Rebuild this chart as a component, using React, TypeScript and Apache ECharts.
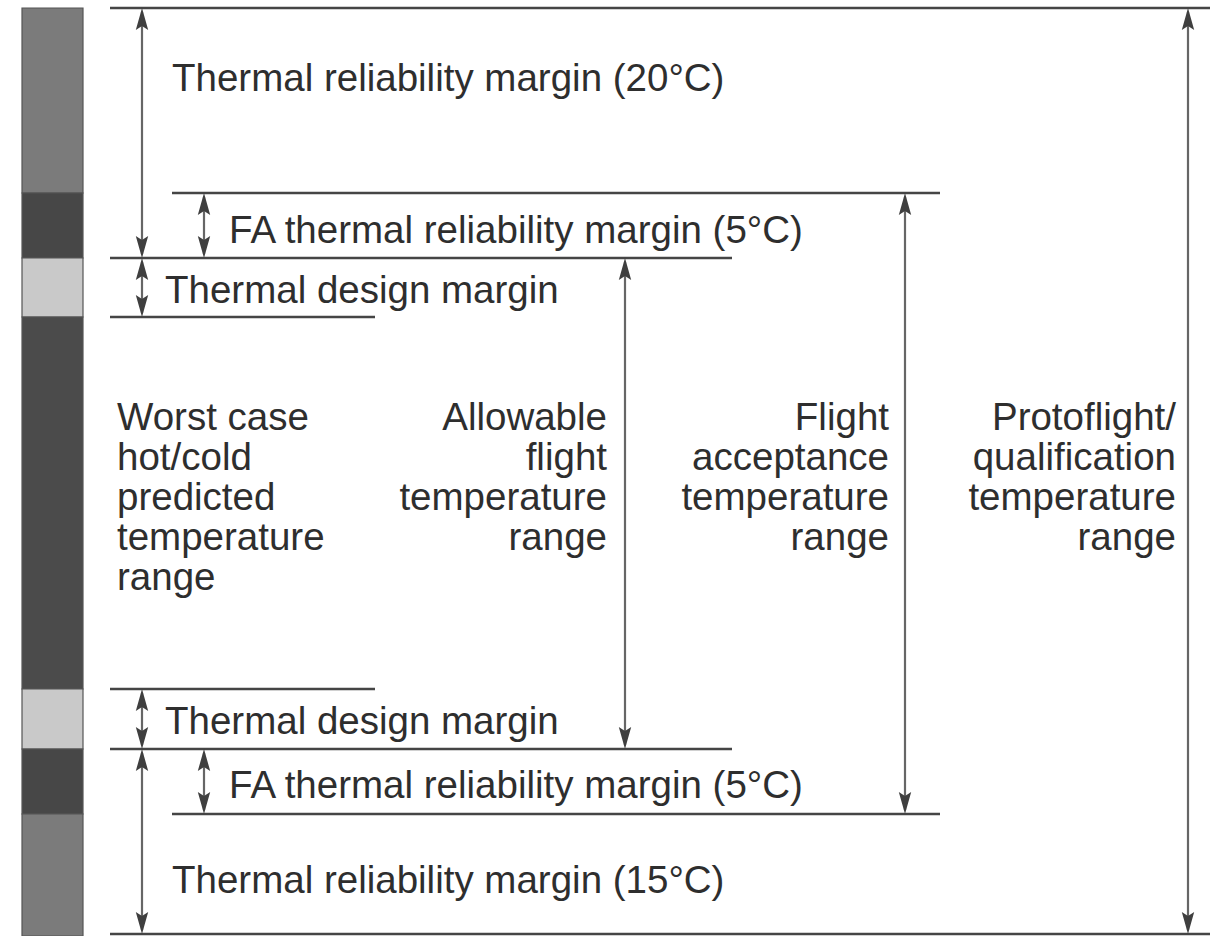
import React, { useEffect, useRef } from "react";
import * as echarts from "echarts";

// Left bar bands (vertical extent in diagram units, top->bottom)
const bandStart = [8, 193, 258, 317, 689, 749, 814];
const bandEnd = [193, 258, 317, 689, 749, 814, 936];
const bandKind = ["reliability", "fa", "design", "predicted", "design", "fa", "reliability"];

// Horizontal level lines
const levelY = [8, 193, 258, 317, 689, 749, 814, 934];
const levelStartX = [110, 172, 110, 110, 110, 110, 172, 110];
const levelEndX = [1210, 940, 732, 375, 375, 732, 940, 1210];

// Double-headed vertical arrows
const arrowX = [142, 142, 204, 625, 905, 1188, 142, 204, 142];
const arrowFrom = [8, 258, 193, 258, 193, 8, 689, 749, 749];
const arrowTo = [258, 317, 258, 749, 814, 934, 749, 814, 934];

// Labels
const labelText = [
  "Thermal reliability margin (20°C)",
  "FA thermal reliability margin (5°C)",
  "Thermal design margin",
  "Worst case\nhot/cold\npredicted\ntemperature\nrange",
  "Allowable\nflight\ntemperature\nrange",
  "Flight\nacceptance\ntemperature\nrange",
  "Protoflight/\nqualification\ntemperature\nrange",
  "Thermal design margin",
  "FA thermal reliability margin (5°C)",
  "Thermal reliability margin (15°C)",
];
const labelX = [172, 229, 165, 117, 607, 889, 1176, 165, 229, 172];
const labelY = [77, 229, 289, 496.5, 476.5, 476.5, 476.5, 720, 784, 879];
const labelAlign = ["left", "left", "left", "left", "right", "right", "right", "left", "left", "left"];

const bandColor: Record<string, string> = {
  reliability: "#7b7b7b",
  fa: "#474747",
  design: "#c9c9c9",
  predicted: "#4b4b4b",
};

const FONT = "'Liberation Sans', Arial, Helvetica, sans-serif";

export default function App() {
  const ref = useRef<HTMLDivElement>(null);
  useEffect(() => {
    if (!ref.current) return;
    const chart = echarts.init(ref.current, undefined, { renderer: "svg" });
    chart.setOption({
      animation: false,
      backgroundColor: "#ffffff",
      grid: { left: 0, right: 0, top: 0, bottom: 0 },
      xAxis: { type: "value", min: 0, max: 1217, show: false },
      yAxis: { type: "value", min: 0, max: 936, inverse: true, show: false },
      series: [
        {
          type: "custom",
          clip: false,
          silent: true,
          data: bandStart.map((s, i) => [s, bandEnd[i]]),
          renderItem: (params: any, api: any) => {
            const i = params.dataIndex;
            const p0 = api.coord([22, bandStart[i]]);
            const p1 = api.coord([83, bandEnd[i]]);
            return {
              type: "rect",
              shape: { x: p0[0], y: p0[1], width: p1[0] - p0[0], height: p1[1] - p0[1] },
              style: { fill: bandColor[bandKind[i]], stroke: "#555555", lineWidth: 1.2 },
            };
          },
        },
        {
          type: "custom",
          clip: false,
          silent: true,
          data: levelY.map((y, i) => [levelStartX[i], y, levelEndX[i]]),
          renderItem: (params: any, api: any) => {
            const i = params.dataIndex;
            const p0 = api.coord([levelStartX[i], levelY[i]]);
            const p1 = api.coord([levelEndX[i], levelY[i]]);
            return {
              type: "line",
              shape: { x1: p0[0], y1: p0[1], x2: p1[0], y2: p1[1] },
              style: { stroke: "#454545", lineWidth: 2.6 },
            };
          },
        },
        {
          type: "custom",
          clip: false,
          silent: true,
          data: arrowX.map((x, i) => [x, arrowFrom[i], arrowTo[i]]),
          renderItem: (params: any, api: any) => {
            const i = params.dataIndex;
            const a = api.coord([arrowX[i], arrowFrom[i]]);
            const b = api.coord([arrowX[i], arrowTo[i]]);
            const x = a[0];
            const hl = 22;
            const hw = 6.2;
            return {
              type: "group",
              children: [
                {
                  type: "line",
                  shape: { x1: x, y1: a[1] + 4, x2: x, y2: b[1] - 4 },
                  style: { stroke: "#666666", lineWidth: 2.2 },
                },
                {
                  type: "polygon",
                  shape: { points: [[x, a[1]], [x - hw, a[1] + hl], [x, a[1] + hl - 4], [x + hw, a[1] + hl]] },
                  style: { fill: "#3f3f3f" },
                },
                {
                  type: "polygon",
                  shape: { points: [[x, b[1]], [x - hw, b[1] - hl], [x, b[1] - hl + 4], [x + hw, b[1] - hl]] },
                  style: { fill: "#3f3f3f" },
                },
              ],
            };
          },
        },
        {
          type: "custom",
          clip: false,
          silent: true,
          data: labelText.map((t, i) => [labelX[i], labelY[i]]),
          renderItem: (params: any, api: any) => {
            const i = params.dataIndex;
            const p = api.coord([labelX[i], labelY[i]]);
            return {
              type: "text",
              x: p[0],
              y: p[1],
              style: {
                text: labelText[i],
                fill: "#2e2e2e",
                fontSize: 38.5,
                fontFamily: FONT,
                lineHeight: 39.8,
                align: labelAlign[i],
                verticalAlign: "middle",
              },
            };
          },
        },
      ],
    });
    return () => chart.dispose();
  }, []);
  return (
    <div
      ref={ref}
      style={{ position: "fixed", left: 0, top: 0, width: 1217, height: 936, background: "#fff" }}
    />
  );
}
